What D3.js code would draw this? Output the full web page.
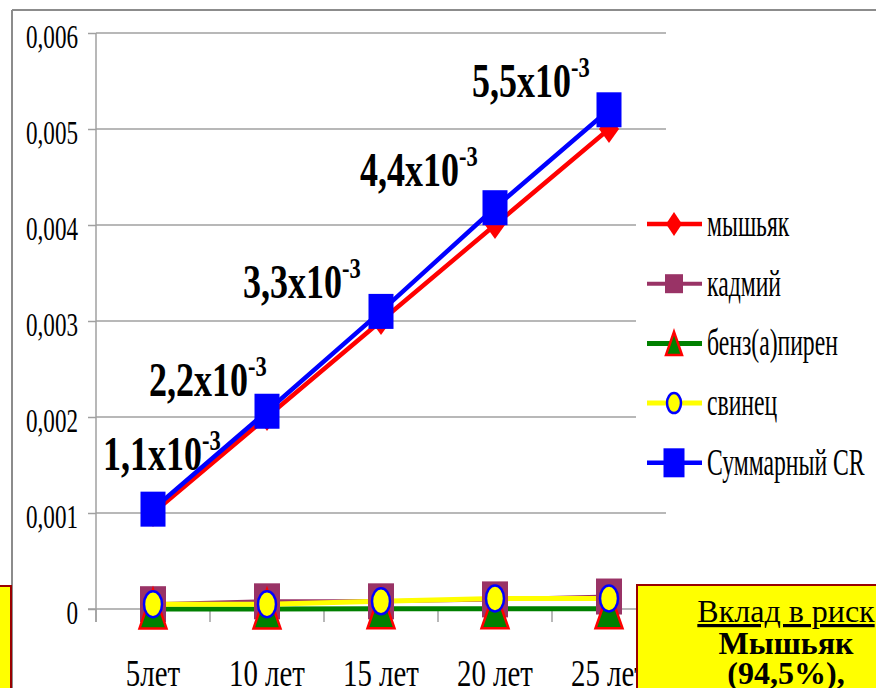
<!DOCTYPE html>
<html>
<head>
<meta charset="utf-8">
<script src="https://cdn.jsdelivr.net/npm/d3@7"></script>
<style>
  html, body { margin: 0; padding: 0; background: #fff; overflow: hidden; }
  svg { display: block; }
  text { font-family: "Liberation Serif", "Times New Roman", serif; fill: #000; }
</style>
</head>
<body>
<svg id="chart" width="876" height="688"></svg>
<script>
// Categories (exposure period) and risk values per substance
const categories = ["5лет", "10 лет", "15 лет", "20 лет", "25 лет"];
const arsenic   = [0.001, 0.002, 0.003, 0.004, 0.005];
const cadmium   = [0.00005, 0.00008, 0.00008, 0.00010, 0.00013];
const benzpyrene = [0.000001, 0.000001, 0.000002, 0.000002, 0.000002];
const lead      = [0.00005, 0.00005, 0.00008, 0.00011, 0.00011];
const totalCR   = [0.00104, 0.00206, 0.0031, 0.00418, 0.0052];

const yTicks = [0, 0.001, 0.002, 0.003, 0.004, 0.005, 0.006];

// Annotation texts with their anchors (category index, risk value of baseline)
const noteMain = ["1,1x10", "2,2x10", "3,3x10", "4,4x10", "5,5x10"];
const noteExp  = ["-3", "-3", "-3", "-3", "-3"];
const noteAtIndex = [0.061, 0.465, 1.289, 2.316, 3.298];
const noteAtValue = [0.001448, 0.002219, 0.00324, 0.004406, 0.005333];

const boxTitle = "Вклад в риск";
const boxLines = ["Мышьяк", "(94,5%),"];

const series = [
  { name: "мышьяк",      values: arsenic,    color: "#FF0000", width: 4.5, marker: "diamond" },
  { name: "кадмий",      values: cadmium,    color: "#993366", width: 4,   marker: "square" },
  { name: "бенз(а)пирен", values: benzpyrene, color: "#008000", width: 5,   marker: "triangle" },
  { name: "свинец",      values: lead,       color: "#FFFF00", width: 5,   marker: "circle" },
  { name: "Суммарный CR", values: totalCR,    color: "#0000FF", width: 4.5, marker: "bigsquare" }
];

const svg = d3.select("#chart");

const plot = { left: 96, right: 666, top: 33, bottom: 609 };
const x = d3.scaleBand().domain(categories).range([plot.left, plot.right]).paddingInner(0).paddingOuter(0);
const xIdx = d3.scaleLinear().domain([0, categories.length]).range([plot.left, plot.right]);
const y = d3.scaleLinear().domain([0, 0.006]).range([plot.bottom, plot.top]);
const cx = c => x(c) + x.bandwidth() / 2;

const fmt = v => v === 0 ? "0" : d3.format(".3f")(v).replace(".", ",");

// outer chart frame
svg.append("line").attr("x1", 12).attr("x2", 880).attr("y1", 10).attr("y2", 10)
  .attr("stroke", "#8c8c8c").attr("stroke-width", 2);
svg.append("line").attr("x1", 12).attr("x2", 12).attr("y1", 10).attr("y2", 690)
  .attr("stroke", "#8c8c8c").attr("stroke-width", 2);

// horizontal gridlines
svg.append("g").selectAll("line").data(yTicks.filter(d => d > 0)).join("line")
  .attr("x1", plot.left).attr("x2", plot.right)
  .attr("y1", d => y(d)).attr("y2", d => y(d))
  .attr("stroke", "#a0a0a0").attr("stroke-width", 1.5);

// y axis
const yAxis = svg.append("g").attr("transform", `translate(${plot.left},0)`)
  .call(d3.axisLeft(y).tickValues(yTicks).tickFormat(fmt).tickSize(8).tickPadding(10));
yAxis.select(".domain").attr("stroke", "#a0a0a0").attr("stroke-width", 1.5)
  .attr("d", `M0,${plot.top}V${plot.bottom + 13}`);
yAxis.selectAll(".tick line").attr("stroke", "#a0a0a0").attr("stroke-width", 1.5);
yAxis.selectAll(".tick text").each(function () {
  const t = d3.select(this);
  const tx = +t.attr("x");
  t.attr("x", 0).attr("dy", null).attr("y", 14)
   .attr("transform", `translate(${tx},0) scale(0.68,1)`)
   .style("font-family", "Liberation Serif").style("font-size", "34px").attr("fill", "#000");
});

// x axis line and boundary ticks
svg.append("line").attr("x1", plot.left - 8).attr("x2", plot.right)
  .attr("y1", plot.bottom).attr("y2", plot.bottom)
  .attr("stroke", "#a0a0a0").attr("stroke-width", 1.5);
const bounds = d3.range(categories.length + 1).map(i => xIdx(i));
svg.append("g").selectAll("line").data(bounds).join("line")
  .attr("x1", d => d).attr("x2", d => d)
  .attr("y1", plot.bottom).attr("y2", plot.bottom + 13)
  .attr("stroke", "#a0a0a0").attr("stroke-width", 1.5);

// x axis labels
const xAxis = svg.append("g").attr("transform", `translate(0,${plot.bottom})`)
  .call(d3.axisBottom(x).tickSize(0).tickPadding(0));
xAxis.select(".domain").remove();
xAxis.selectAll(".tick text").attr("y", 0).attr("dy", null)
  .attr("transform", "translate(0,77) scale(0.76,1)")
  .style("font-family", "Liberation Serif").style("font-size", "38px").attr("fill", "#000");

// lines first (all series), then markers
const lineGen = d3.line().x((d, i) => cx(categories[i])).y(d => y(d));
svg.append("g").selectAll("path").data(series).join("path")
  .attr("d", s => lineGen(s.values))
  .attr("fill", "none").attr("stroke", s => s.color).attr("stroke-width", s => s.width)
  .attr("stroke-linejoin", "round");

function drawMarker(g, type, px, py, legend) {
  if (type === "diamond") {
    const w = legend ? 16 : 20, h = legend ? 24 : 28;
    g.append("path").attr("d", `M${px},${py - h / 2}L${px + w / 2},${py}L${px},${py + h / 2}L${px - w / 2},${py}Z`)
      .attr("fill", "#FF0000");
  } else if (type === "square") {
    const w = legend ? 18 : 26, h = legend ? 19 : 36;
    g.append("rect").attr("x", px - w / 2).attr("y", py - h / 2).attr("width", w).attr("height", h)
      .attr("fill", "#993366");
  } else if (type === "triangle") {
    const w = legend ? 16 : 27, h = legend ? 23 : 39;
    g.append("path").attr("d", `M${px},${py - h / 2}L${px + w / 2},${py + h / 2}L${px - w / 2},${py + h / 2}Z`)
      .attr("fill", "#008000").attr("stroke", "#FF0000").attr("stroke-width", 2.5).attr("stroke-linejoin", "miter");
  } else if (type === "circle") {
    const w = legend ? 14 : 18, h = legend ? 20 : 26;
    g.append("ellipse").attr("cx", px).attr("cy", py).attr("rx", w / 2).attr("ry", h / 2)
      .attr("fill", "#FFFF00").attr("stroke", "#0000FF").attr("stroke-width", 2.5);
  } else if (type === "bigsquare") {
    const w = legend ? 21 : 25, h = legend ? 29 : 35;
    g.append("rect").attr("x", px - w / 2).attr("y", py - h / 2).attr("width", w).attr("height", h)
      .attr("fill", "#0000FF");
  }
}

const markers = svg.append("g");
series.forEach(s => {
  s.values.forEach((v, i) => drawMarker(markers, s.marker, cx(categories[i]), y(v), false));
});

// annotations
const notes = svg.append("g");
noteMain.forEach((t, i) => {
  const tx = xIdx(noteAtIndex[i]), ty = y(noteAtValue[i]);
  const txt = notes.append("text")
    .attr("transform", `translate(${tx},${ty}) scale(0.75,1)`)
    .style("font-size", "48px").style("font-weight", "bold");
  txt.append("tspan").text(t);
  txt.append("tspan").attr("dy", -20).style("font-size", "30px").text(noteExp[i]);
});

// legend
const legend = svg.append("g");
legend.append("rect").attr("x", 636).attr("y", 190).attr("width", 260).attr("height", 305).attr("fill", "#fff");
series.forEach((s, i) => {
  const ly = 224 + i * 59.7;
  legend.append("line").attr("x1", 647).attr("x2", 702).attr("y1", ly).attr("y2", ly)
    .attr("stroke", s.color).attr("stroke-width", s.width);
  drawMarker(legend, s.marker, 674, ly, true);
  legend.append("text").attr("transform", `translate(707,${ly + 12}) scale(0.64,1)`)
    .style("font-size", "37px").text(s.name);
});

// side boxes
svg.append("rect").attr("x", -20).attr("y", 586).attr("width", 31).attr("height", 120)
  .attr("fill", "#FFFF00").attr("stroke", "#990000").attr("stroke-width", 2);
svg.append("rect").attr("x", 637).attr("y", 585).attr("width", 300).attr("height", 120)
  .attr("fill", "#FFFF00").attr("stroke", "#990000").attr("stroke-width", 2);
const boxCx = 786;
svg.append("text").attr("x", boxCx).attr("y", 622).attr("text-anchor", "middle")
  .style("font-size", "32px").style("text-decoration", "underline").text(boxTitle);
boxLines.forEach((t, i) => {
  svg.append("text").attr("x", boxCx).attr("y", 654 + i * 30).attr("text-anchor", "middle")
    .style("font-size", "32px").style("font-weight", "bold").text(t);
});
</script>
</body>
</html>
